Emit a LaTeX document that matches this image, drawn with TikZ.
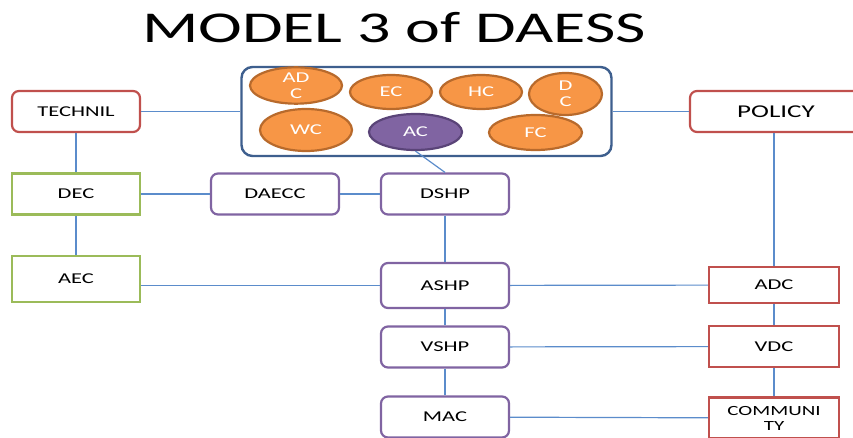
\documentclass[tikz,border=0pt]{standalone}
\usepackage{fontspec}
\setmainfont{Carlito}[FakeStretch=1.5]
\usetikzlibrary{shapes.geometric}
\definecolor{boxred}{HTML}{C0504D}
\definecolor{boxgreen}{HTML}{9BBB59}
\definecolor{boxpurple}{HTML}{8064A2}
\definecolor{linkblue}{HTML}{5B8CCB}
\definecolor{frameblue}{HTML}{3E5F8E}
\definecolor{ovalfill}{HTML}{F79646}
\definecolor{ovaldraw}{HTML}{B86A2C}
\definecolor{acdraw}{HTML}{5A4478}
\tikzset{
  card/.style={minimum height=41pt, inner sep=0pt, align=center,
    font=\fontsize{15}{15}\selectfont, line width=2.2pt},
  redround/.style={card, draw=boxred, rounded corners=7pt, minimum width=128pt},
  redsharp/.style={card, draw=boxred, minimum width=130pt},
  greenbox/.style={card, draw=boxgreen, minimum width=128pt},
  purplebox/.style={card, draw=boxpurple, rounded corners=7pt, minimum width=128pt},
  oval/.style={ellipse, draw=ovaldraw, fill=ovalfill, line width=2.2pt, inner sep=0pt,
    text=white, align=center, font=\fontsize{15}{16}\selectfont},
  link/.style={draw=linkblue, line width=1.2pt}
}
\begin{document}
\begin{tikzpicture}[x=1pt,y=-1pt]
\useasboundingbox (0,0) rectangle (853,438);
\fill[white] (0,0) rectangle (853,438);

% title
\node[font=\fontsize{44}{44}\selectfont] (title) at (394,28) {MODEL 3 of DAESS};

% left column
\node[redround] (technil) at (76,111.5) {TECHNIL};
\node[greenbox] (dec) at (76,194) {DEC};
\node[greenbox, minimum height=46pt] (aec) at (76,279) {AEC};

% middle column
\node[purplebox] (daecc) at (275,194) {DAECC};
\node[purplebox] (dshp) at (445,194) {DSHP};
\node[purplebox, minimum height=45pt] (ashp) at (445,285.5) {ASHP};
\node[purplebox] (vshp) at (445,347) {VSHP};
\node[purplebox] (mac) at (445,417) {MAC};

% right column
\node[redround, minimum width=172pt, font=\fontsize{18}{18}\selectfont] (policy) at (776,111.5) {POLICY};
\node[redsharp, minimum height=36pt] (adc) at (774,285) {ADC};
\node[redsharp] (vdc) at (774,346.5) {VDC};
\node[redsharp, font=\fontsize{14}{15}\selectfont] (community) at (774,418) {COMMUNI\\TY};

% container of committees
\node[draw=frameblue, line width=2.4pt, rounded corners=11pt, minimum width=370pt,
      minimum height=89pt, inner sep=0pt] (frame) at (426.5,111.5) {};
\node[oval, minimum width=92pt, minimum height=35pt] (adcv) at (296,85.5) {AD\\C};
\node[oval, minimum width=82pt, minimum height=34pt] (ec) at (391,92) {EC};
\node[oval, minimum width=82pt, minimum height=34pt] (hc) at (481,92) {HC};
\node[oval, minimum width=73pt, minimum height=42pt] (dc) at (565.5,94) {D\\C};
\node[oval, minimum width=92pt, minimum height=42pt] (wc) at (306,130) {WC};
\node[oval, fill=boxpurple, draw=acdraw, minimum width=93pt, minimum height=36pt] (ac) at (415.5,132) {AC};
\node[oval, minimum width=93pt, minimum height=35pt] (fc) at (535.5,132.5) {FC};

% connectors
\draw[link] (technil) -- (frame);
\draw[link] (frame) -- (policy);
\draw[link] (technil) -- (dec);
\draw[link] (dec) -- (aec);
\draw[link] (dec) -- (daecc);
\draw[link] (daecc) -- (dshp);
\draw[link] (ac.south) -- (dshp.north);
\draw[link] (dshp) -- (ashp);
\draw[link] (aec.east |- ashp.west) -- (ashp.west);
\draw[link] (ashp) -- (adc);
\draw[link] (ashp) -- (vshp);
\draw[link] (vshp) -- (mac);
\draw[link] (vshp) -- (vdc);
\draw[link] (mac) -- (community);
\draw[link] (policy.south -| adc.north) -- (adc.north);
\draw[link] (adc) -- (vdc);
\draw[link] (vdc) -- (community);
\end{tikzpicture}
\end{document}
